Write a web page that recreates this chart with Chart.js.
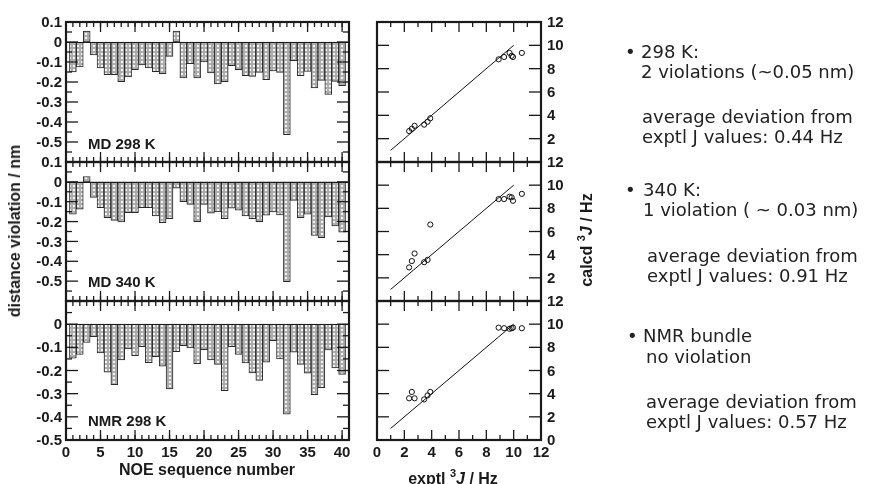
<!DOCTYPE html>
<html><head><meta charset="utf-8">
<script src="https://cdn.jsdelivr.net/npm/chart.js@4.4.1/dist/chart.umd.min.js"></script>
<style>
html,body{margin:0;padding:0;background:#fff;}
#wrap{position:relative;width:869px;height:484px;overflow:hidden;background:#fff;}
#wrap canvas{position:absolute;left:0;top:0;}
.ax{position:absolute;font-family:"Liberation Sans",Arial,sans-serif;font-weight:bold;font-size:16px;color:#1a1a1a;white-space:nowrap;line-height:18px;}
.t{position:absolute;font-family:"DejaVu Sans",Verdana,sans-serif;font-size:18px;color:#222;white-space:pre;line-height:20px;transform:translateY(-50%);}
</style></head><body><div id="wrap">
<canvas id="c1" width="869" height="484"></canvas>
<canvas id="c2" width="869" height="484"></canvas>
<canvas id="c3" width="869" height="484"></canvas>
<canvas id="c4" width="869" height="484"></canvas>
<canvas id="c5" width="869" height="484"></canvas>
<canvas id="c6" width="869" height="484"></canvas>
<div class="ax" style="left:15px;top:231px;transform:translate(-50%,-50%) rotate(-90deg);">distance violation / nm</div>
<div class="ax" style="left:207px;top:470px;transform:translate(-50%,-50%);">NOE sequence number</div>
<div class="ax" style="left:584px;top:240px;transform:translate(-50%,-50%) rotate(-90deg);">calcd <sup style="font-size:11px">3</sup><i>J</i> / Hz</div>
<div class="ax" style="left:453px;top:476px;transform:translate(-50%,-50%);">exptl <sup style="font-size:11px">3</sup><i>J</i> / Hz</div>
<div class="ax" style="left:88px;top:144px;transform:translateY(-50%);font-size:15px;">MD 298 K</div>
<div class="ax" style="left:88px;top:282px;transform:translateY(-50%);font-size:15px;">MD 340 K</div>
<div class="ax" style="left:88px;top:421px;transform:translateY(-50%);font-size:15px;">NMR 298 K</div>

<div class="t" style="left:625px;top:52px;">•</div>
<div class="t" style="left:641px;top:52px;">298 K:</div>
<div class="t" style="left:641px;top:72px;">2 violations (~0.05 nm)</div>
<div class="t" style="left:642px;top:117px;">average deviation from</div>
<div class="t" style="left:642px;top:137px;">exptl J values: 0.44 Hz</div>

<div class="t" style="left:625px;top:190px;">•</div>
<div class="t" style="left:643px;top:190px;">340 K:</div>
<div class="t" style="left:643px;top:210px;">1 violation ( ~ 0.03 nm)</div>
<div class="t" style="left:647px;top:256px;">average deviation from</div>
<div class="t" style="left:647px;top:276px;">exptl J values: 0.91 Hz</div>

<div class="t" style="left:627px;top:336px;">•</div>
<div class="t" style="left:643px;top:336px;">NMR bundle</div>
<div class="t" style="left:646px;top:357px;">no violation</div>
<div class="t" style="left:646px;top:402px;">average deviation from</div>
<div class="t" style="left:646px;top:422px;">exptl J values: 0.57 Hz</div>
</div>
<script>
// ---------------- data ----------------
const noeNumbers = [1,2,3,4,5,6,7,8,9,10,11,12,13,14,15,16,17,18,19,20,21,22,23,24,25,26,27,28,29,30,31,32,33,34,35,36,37,38,39,40];
const violMD298 = [-0.15,-0.125,0.055,-0.065,-0.13,-0.163,-0.163,-0.198,-0.175,-0.138,-0.115,-0.13,-0.148,-0.158,-0.072,0.055,-0.18,-0.108,-0.18,-0.1,-0.155,-0.21,-0.198,-0.118,-0.138,-0.168,-0.172,-0.152,-0.188,-0.145,-0.152,-0.463,-0.093,-0.168,-0.147,-0.23,-0.192,-0.262,-0.197,-0.218];
const violMD340 = [-0.163,-0.138,0.027,-0.079,-0.13,-0.18,-0.194,-0.202,-0.155,-0.155,-0.13,-0.13,-0.172,-0.205,-0.185,-0.032,-0.1,-0.113,-0.2,-0.113,-0.158,-0.152,-0.185,-0.133,-0.143,-0.172,-0.185,-0.2,-0.168,-0.152,-0.167,-0.503,-0.093,-0.18,-0.163,-0.27,-0.281,-0.177,-0.222,-0.253];
const violNMR298 = [-0.147,-0.131,-0.079,-0.054,-0.124,-0.207,-0.261,-0.154,-0.107,-0.136,-0.097,-0.166,-0.14,-0.181,-0.28,-0.119,-0.093,-0.103,-0.171,-0.11,-0.154,-0.174,-0.287,-0.097,-0.131,-0.167,-0.21,-0.243,-0.164,-0.071,-0.15,-0.389,-0.121,-0.174,-0.211,-0.304,-0.274,-0.111,-0.189,-0.217];

const jExptl   = [2.35,2.55,2.75,3.45,3.7,3.9,8.9,9.3,9.7,9.85,9.95,10.6];
const jCalcMD298  = [2.65,2.85,3.1,3.2,3.45,3.75,8.8,9.0,9.35,9.1,9.0,9.35];
const jCalcMD340  = [2.9,3.45,4.1,3.35,3.55,6.6,8.8,8.8,9.0,8.95,8.65,9.25];
const jCalcNMR298 = [3.6,4.15,3.6,3.5,3.85,4.15,9.7,9.65,9.6,9.65,9.7,9.65];
const diagX = [1,10];
const diagY = [1,10];

const violTicksTop    = ['0.1','0','-0.1','-0.2','-0.3','-0.4','-0.5'];
const violTicksBottom = ['0','-0.1','-0.2','-0.3','-0.4','-0.5'];
const noeTicks        = ['0','5','10','15','20','25','30','35','40'];
const jYTicksUpper    = ['12','10','8','6','4','2'];
const jYTicksBottom   = ['12','10','8','6','4','2','0'];
const jXTicks         = ['0','2','4','6','8','10','12'];

// ---------------- helpers ----------------
function range(a,b,s){const r=[];for(let v=a;v<=b+1e-9;v+=s)r.push(Math.round(v*1000)/1000);return r;}
function makePattern(){
  const c=document.createElement('canvas');c.width=4;c.height=4;
  const g=c.getContext('2d');
  g.fillStyle='#acacac';g.fillRect(0,0,4,4);
  g.fillStyle='#f4f4f4';g.fillRect(1,1,2,2);
  return g.createPattern(c,'repeat');
}
const LABEL_FONT = 'bold 15px "Liberation Sans", Arial, sans-serif';
const INK = '#1a1a1a';

const decor = {
  id:'decor',
  afterDatasetsDraw(chart, args, o){
    const {ctx, chartArea:a} = chart;
    const x = chart.scales.x, y = chart.scales.y;
    ctx.save();
    ctx.strokeStyle = INK;
    const seg=(x1,y1,x2,y2)=>{ctx.beginPath();ctx.moveTo(x1,y1);ctx.lineTo(x2,y2);ctx.stroke();};
    if (o.zeroLine){ const py=Math.round(y.getPixelForValue(0))+0.5; ctx.lineWidth=1.2; seg(a.left,py,a.right,py); }
    ctx.lineWidth = 1.3;
    for (const [vals,len] of [[o.xMinor,5],[o.xMajor,10]]) for (const v of vals){
      const px=x.getPixelForValue(v); seg(px,a.top,px,a.top+len); seg(px,a.bottom,px,a.bottom-len);
    }
    for (const [vals,len] of [[o.yMinor,6],[o.yMajor,12]]) for (const v of vals){
      const py=y.getPixelForValue(v); seg(a.left,py,a.left+len,py); seg(a.right,py,a.right-len,py);
    }
    ctx.lineWidth = 2.2;
    ctx.strokeRect(a.left,a.top,a.right-a.left,a.bottom-a.top);
    ctx.fillStyle = INK; ctx.font = LABEL_FONT; ctx.textBaseline='middle';
    if (o.yLabels){
      ctx.textAlign = o.yLabelSide==='right' ? 'left' : 'right';
      const lx = o.yLabelSide==='right' ? a.right+6 : a.left-4;
      for (const t of o.yLabels){ ctx.fillText(t, lx, y.getPixelForValue(parseFloat(t))+1); }
    }
    if (o.xLabels){
      ctx.textAlign='center';
      for (const t of o.xLabels){ ctx.fillText(t, x.getPixelForValue(parseFloat(t)), a.bottom+13); }
    }
    ctx.restore();
  }
};

function barChart(id, values, pad, ymin, yLabels, xLabels){
  return new Chart(document.getElementById(id), {
    type:'bar',
    data:{datasets:[{data: noeNumbers.map((n,i)=>({x:n,y:values[i]})), backgroundColor: makePattern(),
      borderColor:'#2a2a2a', borderWidth:1, barPercentage:1, categoryPercentage:1, borderSkipped:false}]},
    options:{responsive:false, animation:false, events:[], devicePixelRatio:1,
      layout:{padding:pad},
      scales:{x:{type:'linear',min:0,max:41,offset:false,display:false}, y:{type:'linear',min:ymin,max:0.1,display:false}},
      plugins:{legend:{display:false},tooltip:{enabled:false},
        decor:{zeroLine:true, xMinor:range(0,41,1), xMajor:range(0,40,5), yMinor:range(ymin+0.05,0.05,0.1), yMajor:range(ymin,0.1,0.1),
          yLabels, yLabelSide:'left', xLabels}}},
    plugins:[decor]
  });
}
function scatterChart(id, calc, pad, yLabels, xLabels){
  return new Chart(document.getElementById(id), {
    type:'scatter',
    data:{datasets:[
      {type:'line', data: diagX.map((v,i)=>({x:v,y:diagY[i]})), borderColor:'#111', borderWidth:1, pointRadius:0, fill:false},
      {data: jExptl.map((v,i)=>({x:v,y:calc[i]})), pointRadius:2.6, pointBorderWidth:1, pointBorderColor:'#111', pointBackgroundColor:'rgba(255,255,255,0)'}
    ]},
    options:{responsive:false, animation:false, events:[], devicePixelRatio:1,
      layout:{padding:pad},
      scales:{x:{type:'linear',min:0,max:12,display:false}, y:{type:'linear',min:0,max:12,display:false}},
      plugins:{legend:{display:false},tooltip:{enabled:false},
        decor:{zeroLine:false, xMinor:range(1,11,2), xMajor:range(0,12,2), yMinor:[], yMajor:range(0,12,2),
          yLabels, yLabelSide:'right', xLabels}}},
    plugins:[decor]
  });
}
const W=869,H=484;
barChart('c1', violMD298, {left:66, top:22, right:W-349, bottom:H-162}, -0.6, violTicksTop, null);
barChart('c2', violMD340, {left:66, top:162, right:W-349, bottom:H-301}, -0.6, violTicksTop, null);
barChart('c3', violNMR298, {left:66, top:301, right:W-349, bottom:H-440}, -0.5, violTicksBottom, noeTicks);
scatterChart('c4', jCalcMD298, {left:377, top:22, right:W-541, bottom:H-162}, jYTicksUpper, null);
scatterChart('c5', jCalcMD340, {left:377, top:162, right:W-541, bottom:H-301}, jYTicksUpper, null);
scatterChart('c6', jCalcNMR298, {left:377, top:301, right:W-541, bottom:H-440}, jYTicksBottom, jXTicks);
</script>
</body></html>
